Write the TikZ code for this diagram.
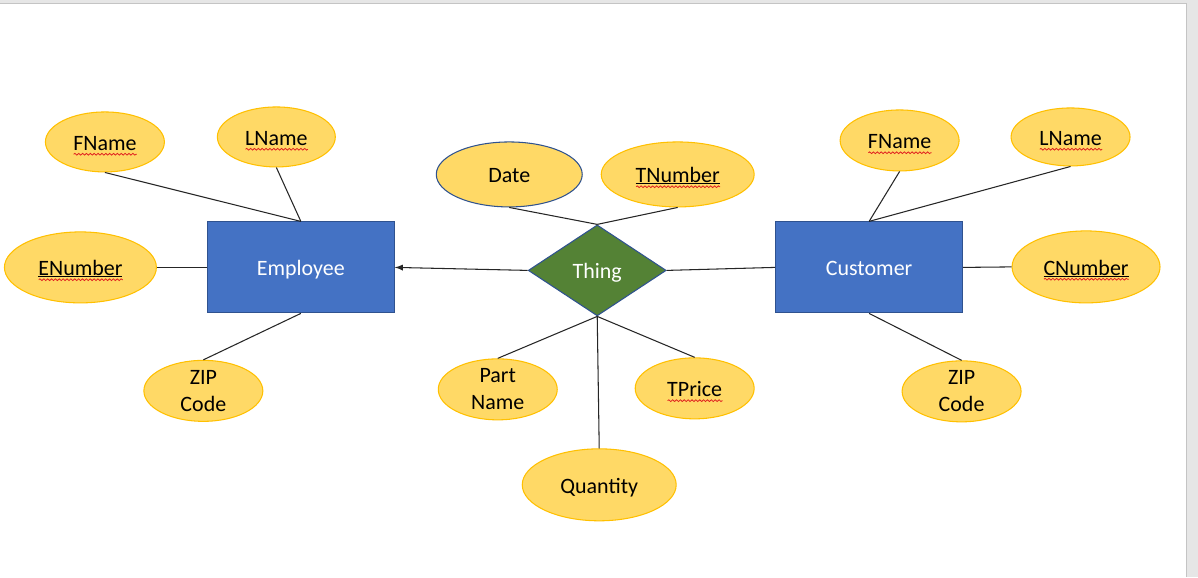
\documentclass[tikz,border=0pt]{standalone}
\usepackage{fontspec}
\setmainfont{Carlito}
\usepackage{xcolor}
\usepackage{tikz}
\usetikzlibrary{shapes.geometric}
\usetikzlibrary{arrows}
\usetikzlibrary{decorations.pathmorphing}

\definecolor{entblue}{HTML}{4472C4}
\definecolor{entedge}{HTML}{2F528F}
\definecolor{relgreen}{HTML}{548235}
\definecolor{attrfill}{HTML}{FFD966}
\definecolor{attredge}{HTML}{FFC000}
\definecolor{spellred}{HTML}{E02020}
\definecolor{pagegray}{HTML}{E6E6E6}
\definecolor{pageedge}{HTML}{C4C4C4}

\newlength\attrwd
\newcommand\wavy[1]{\settowidth\attrwd{#1}\smash{\rlap{\tikz[baseline=0pt]\draw[spellred,line width=0.45pt,decorate,decoration={snake,amplitude=0.5pt,segment length=2.2pt}] (0,-2.3pt) -- (\attrwd,-2.3pt);}}#1}
\newcommand\keyname[1]{\settowidth\attrwd{#1}\rlap{\rule[-0.9pt]{\attrwd}{0.55pt}}\wavy{#1}}

\tikzset{
	entity/.style={draw=entedge,fill=entblue,text=white,line width=0.6pt,text height=9.4pt,text depth=0pt,minimum width=3.74cm,minimum height=1.82cm},
	relation/.style={diamond,aspect=1.5,draw=entedge,fill=relgreen,text=white,line width=0.6pt,inner sep=0pt,text height=9.4pt,text depth=0pt,minimum width=2.76cm,minimum height=1.82cm},
	attr/.style={ellipse,draw=attredge,fill=attrfill,line width=0.6pt,inner sep=0pt,text height=9.4pt,text depth=0pt},
	twoline/.style={attr,align=center,text height=,text depth=,inner ysep=-2pt},
	link/.style={line width=0.6pt,black!85},
}

\begin{document}
\begin{tikzpicture}[transform shape,scale=1,font=\fontsize{12.5}{15.4}\selectfont]
		% page
		\fill[pagegray] (0,0) rectangle (23.96,11.54);
		\fill[white] (0,0) rectangle (23.72,11.48);
		\draw[pageedge,line width=0.5pt] (23.72,0) -- (23.72,11.48) -- (0,11.48);
		\useasboundingbox (0,0) rectangle (23.96,11.54);
		% entities and relation
		\node[entity] (employee) at (6.01,6.19) {Employee};
		\node[entity] (customer) at (17.38,6.19) {Customer};
		\node[relation] (thing) at (11.94,6.13) {Thing};
		% Employee attributes
		\node[attr,minimum width=2.38cm,minimum height=1.20cm] (efname) at (2.09,8.70) {\wavy{FName}};
		\node[attr,minimum width=2.36cm,minimum height=1.20cm] (elname) at (5.52,8.80) {\wavy{LName}};
		\node[attr,minimum width=3.04cm,minimum height=1.42cm] (enumber) at (1.60,6.19) {\keyname{ENumber}};
		\node[twoline,minimum width=2.38cm,minimum height=1.22cm] (ezip) at (4.06,3.72) {ZIP\\Code};
		% Thing attributes
		\node[attr,draw=entedge,minimum width=2.92cm,minimum height=1.30cm] (date) at (10.18,8.05) {Date};
		\node[attr,minimum width=3.06cm,minimum height=1.30cm] (tnumber) at (13.55,8.05) {\keyname{TNumber}};
		\node[twoline,minimum width=2.38cm,minimum height=1.22cm] (partname) at (9.95,3.75) {Part\\Name};
		\node[attr,minimum width=2.38cm,minimum height=1.22cm] (tprice) at (13.89,3.77) {\wavy{TPrice}};
		\node[attr,minimum width=3.08cm,minimum height=1.44cm] (quantity) at (11.98,1.84) {Quantity};
		% Customer attributes
		\node[attr,minimum width=2.38cm,minimum height=1.22cm] (cfname) at (17.99,8.73) {\wavy{FName}};
		\node[attr,minimum width=2.38cm,minimum height=1.16cm] (clname) at (21.41,8.80) {\wavy{LName}};
		\node[attr,minimum width=2.96cm,minimum height=1.44cm] (cnumber) at (21.72,6.20) {\keyname{CNumber}};
		\node[twoline,minimum width=2.38cm,minimum height=1.22cm] (czip) at (19.23,3.71) {ZIP\\Code};
		% links
		\draw[link] (efname.south) -- (employee.north);
		\draw[link] (elname.south) -- (employee.north);
		\draw[link] (enumber.east) -- (employee.west);
		\draw[link] (ezip.north) -- (employee.south);
		\draw[link] (date.south) -- (thing.north);
		\draw[link] (tnumber.south) -- (thing.north);
		\draw[link] (partname.north) -- (thing.south);
		\draw[link] (tprice.north) -- (thing.south);
		\draw[link] (quantity.north) -- (thing.south);
		\draw[link,-latex] (thing.west) -- (employee.east);
		\draw[link] (thing.east) -- (customer.west);
		\draw[link] (cfname.south) -- (customer.north);
		\draw[link] (clname.south) -- (customer.north);
		\draw[link] (customer.east) -- (cnumber.west);
		\draw[link] (customer.south) -- (czip.north);
	\end{tikzpicture}
\end{document}
